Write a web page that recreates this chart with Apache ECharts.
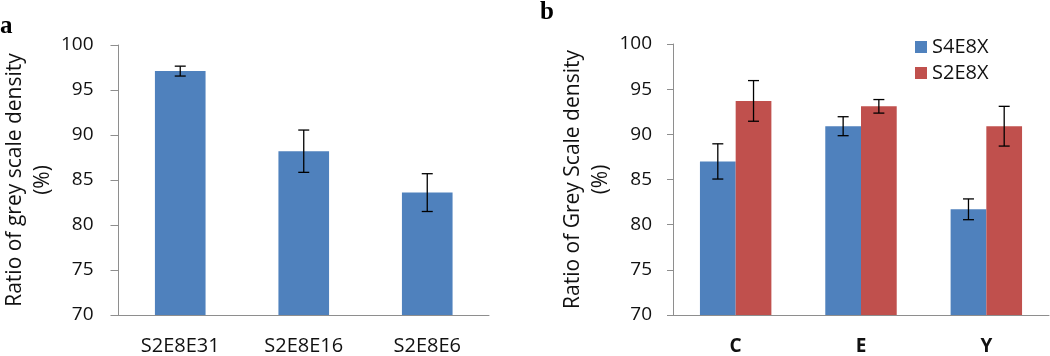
<!DOCTYPE html>
<html>
<head>
<meta charset="utf-8">
<script src="https://cdn.jsdelivr.net/npm/echarts@6/dist/echarts.min.js"></script>
<style>
  html, body { margin: 0; padding: 0; background: #fff; }
  #chart { width: 1050px; height: 356px; }
</style>
</head>
<body>
<div id="chart"></div>
<script>
// panel a
var catsA = ['S2E8E31', 'S2E8E16', 'S2E8E6'];
var valsA = [97.1, 88.2, 83.6];
var errA = [0.55, 2.35, 2.1];

// panel b
var catsB = ['C', 'E', 'Y'];
var namesB = ['S4E8X', 'S2E8X'];
var valsS4 = [87.0, 90.9, 81.7];
var errS4 = [1.95, 1.05, 1.15];
var valsS2 = [93.7, 93.1, 90.9];
var errS2 = [2.25, 0.75, 2.2];

var yTicks = { min: 70, max: 100, interval: 5 };

var BLUE = '#4F81BD';
var RED = '#C0504D';
var AXIS = '#8E8E8E';
var FONT = 'Open Sans';

var chart = echarts.init(document.getElementById('chart'));

function errData(vals, errs) {
  return vals.map(function (v, i) { return [i, v - errs[i], v + errs[i]]; });
}

// offset: fraction of band width to shift the bar centre
function errRender(offset) {
  return function (params, api) {
    var band = api.size([1, 0])[0];
    var lo = api.coord([api.value(0), api.value(1)]);
    var hi = api.coord([api.value(0), api.value(2)]);
    var x = lo[0] + offset * band;
    var half = 5.5;
    var st = { stroke: '#000', lineWidth: 1.3 };
    return {
      type: 'group',
      children: [
        { type: 'line', shape: { x1: x, y1: hi[1], x2: x, y2: lo[1] }, style: st },
        { type: 'line', shape: { x1: x - half, y1: hi[1], x2: x + half, y2: hi[1] }, style: st },
        { type: 'line', shape: { x1: x - half, y1: lo[1], x2: x + half, y2: lo[1] }, style: st }
      ]
    };
  };
}

function yAxis(gridIndex, title, gap, tick, margin) {
  return {
    type: 'value', gridIndex: gridIndex,
    min: yTicks.min, max: yTicks.max, interval: yTicks.interval,
    splitLine: { show: false },
    axisLine: { show: true, lineStyle: { color: AXIS, width: 1 } },
    axisTick: { show: true, length: tick, lineStyle: { color: AXIS } },
    axisLabel: { color: '#111', fontFamily: FONT, fontSize: 19, margin: margin },
    name: title, nameLocation: 'middle', nameRotate: 90, nameGap: gap,
    nameTextStyle: { color: '#111', fontFamily: FONT, fontSize: 21, lineHeight: 28 }
  };
}

var option = {
  animation: false,
  backgroundColor: '#fff',
  grid: [
    { left: 110, top: 45, width: 379, height: 273 },
    { left: 673, top: 44, width: 376, height: 272 }
  ],
  xAxis: [
    {
      type: 'category', gridIndex: 0, data: catsA,
      axisLine: { lineStyle: { color: AXIS } },
      axisTick: { length: 7, lineStyle: { color: AXIS } },
      axisLabel: { color: '#111', fontFamily: FONT, fontSize: 20, margin: 21 }
    },
    {
      type: 'category', gridIndex: 1, data: catsB,
      axisLine: { lineStyle: { color: AXIS } },
      axisTick: { length: 7, lineStyle: { color: AXIS } },
      axisLabel: { color: '#111', fontFamily: FONT, fontWeight: 'bold', fontSize: 19, margin: 22 }
    }
  ],
  yAxis: [
    yAxis(0, 'Ratio of grey scale density\n(%)', 60, 8, 25),
    yAxis(1, 'Ratio of Grey Scale density\n(%)', 48, 6, 21)
  ],
  legend: {
    data: namesB,
    orient: 'vertical', left: 910, top: 32,
    icon: 'rect', itemWidth: 12, itemHeight: 12, itemGap: 6,
    textStyle: { color: '#111', fontFamily: FONT, fontSize: 20 }
  },
  graphic: [
    { type: 'text', left: 0, top: 14, style: { text: 'a', font: 'bold 25px "Liberation Serif"', fill: '#000' } },
    { type: 'text', left: 540, top: 0, style: { text: 'b', font: 'bold 25px "Liberation Serif"', fill: '#000' } }
  ],
  series: [
    {
      type: 'bar', xAxisIndex: 0, yAxisIndex: 0, data: valsA,
      barCategoryGap: '59%', itemStyle: { color: BLUE }
    },
    {
      type: 'custom', xAxisIndex: 0, yAxisIndex: 0, z: 5,
      renderItem: errRender(0), data: errData(valsA, errA)
    },
    {
      name: namesB[0], type: 'bar', xAxisIndex: 1, yAxisIndex: 1, data: valsS4,
      barGap: '0%', barCategoryGap: '43%', itemStyle: { color: BLUE }
    },
    {
      name: namesB[1], type: 'bar', xAxisIndex: 1, yAxisIndex: 1, data: valsS2,
      barGap: '0%', barCategoryGap: '43%', itemStyle: { color: RED }
    },
    {
      type: 'custom', xAxisIndex: 1, yAxisIndex: 1, z: 5,
      renderItem: errRender(-0.1425), data: errData(valsS4, errS4)
    },
    {
      type: 'custom', xAxisIndex: 1, yAxisIndex: 1, z: 5,
      renderItem: errRender(0.1425), data: errData(valsS2, errS2)
    }
  ]
};

chart.setOption(option);
</script>
</body>
</html>
